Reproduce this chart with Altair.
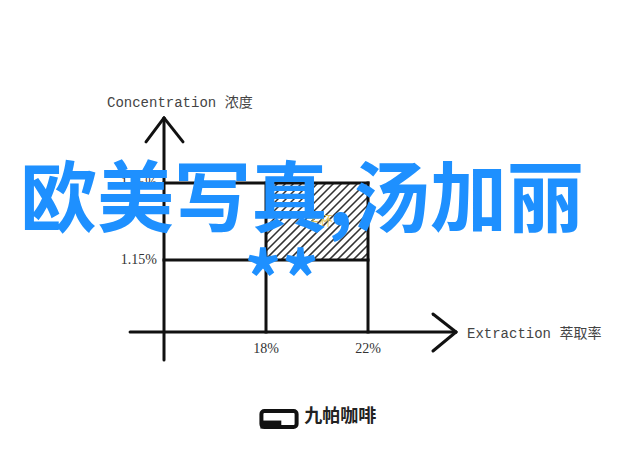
import altair as alt
import pandas as pd
import numpy as np

# ---------------- data ----------------
extraction_ticks = [18, 22]            # Extraction %
extraction_labels = ["18%", "22%"]
concentration_ticks = [1.15, 1.35]     # Concentration %
concentration_labels = ["1.15%", "1.35%"]
x_title = "Extraction 萃取率"
y_title = "Concentration 浓度"
zone_label = "金杯"
watermark = "欧美写真,汤加丽"
watermark2 = "**"
brand = "九帕咖啡"

# axis origin / extents (in data units)
X0, Y0 = 14.0, 0.963
X_START, X_END = 12.67, 25.45
Y_START, Y_END = 0.890, 1.519

X_DOM = [7.882, 32.353]
Y_DOM = [0.6513, 1.8045]
W, H = 624, 444
PX = W / (X_DOM[1] - X_DOM[0])
PY = H / (Y_DOM[1] - Y_DOM[0])

xs = alt.Scale(domain=X_DOM, zero=False, nice=False)
ys = alt.Scale(domain=Y_DOM, zero=False, nice=False)


def enc_rule():
    return dict(
        x=alt.X("x:Q", scale=xs, axis=None),
        y=alt.Y("y:Q", scale=ys, axis=None),
        x2="x2:Q",
        y2="y2:Q",
    )


# frame lines of the ideal zone
frame = []
for xv in extraction_ticks:
    frame.append(dict(x=xv, y=Y0, x2=xv, y2=concentration_ticks[1]))
for yv in concentration_ticks:
    frame.append(dict(x=X0, y=yv, x2=extraction_ticks[1], y2=yv))
frame_df = pd.DataFrame(frame)

axes_df = pd.DataFrame([
    dict(x=X_START, y=Y0, x2=X_END, y2=Y0),
    dict(x=X0, y=Y_START, x2=X0, y2=Y_END),
    # arrowheads
    dict(x=X_END - 23 / PX, y=Y0 + 18 / PY, x2=X_END, y2=Y0),
    dict(x=X_END - 23 / PX, y=Y0 - 19 / PY, x2=X_END, y2=Y0),
    dict(x=X0 - 18 / PX, y=Y_END - 24 / PY, x2=X0, y2=Y_END),
    dict(x=X0 + 19 / PX, y=Y_END - 24 / PY, x2=X0, y2=Y_END),
])

# hatch of the gold-cup zone (x 18-22, y 1.15-1.35)
bx0, bx1 = extraction_ticks
by0, by1 = concentration_ticks
bw = (bx1 - bx0) * PX
bh = (by1 - by0) * PY
hatch = []
for c in np.arange(-bh + 4, bw, 8.0):
    X1 = max(0.0, c)
    X2 = min(bw, bh + c)
    if X2 <= X1:
        continue
    hatch.append(dict(x=bx0 + X1 / PX, y=by0 + (X1 - c) / PY,
                      x2=bx0 + X2 / PX, y2=by0 + (X2 - c) / PY))
hatch_df = pd.DataFrame(hatch)

frame_layer = alt.Chart(frame_df).mark_rule(color="#111", strokeWidth=3, strokeCap="square").encode(**enc_rule())
hatch_layer = alt.Chart(hatch_df).mark_rule(color="#333", strokeWidth=1.6).encode(**enc_rule())
axes_layer = alt.Chart(axes_df).mark_rule(color="#111", strokeWidth=3, strokeCap="round").encode(**enc_rule())


def text_layer(df, **kw):
    return alt.Chart(df).mark_text(**kw).encode(
        x=alt.X("x:Q", scale=xs, axis=None),
        y=alt.Y("y:Q", scale=ys, axis=None),
        text="t:N",
    )


xlab = text_layer(pd.DataFrame(dict(x=extraction_ticks, y=[Y0 - 17 / PY] * 2, t=extraction_labels)),
                  font="Liberation Serif", fontSize=14, color="#333", align="center", baseline="middle")
ylab = text_layer(pd.DataFrame(dict(x=[X0 - 7 / PX] * 2, y=concentration_ticks, t=concentration_labels)),
                  font="Liberation Serif", fontSize=14, color="#333", align="right", baseline="middle")
xt = text_layer(pd.DataFrame(dict(x=[X_END + 11 / PX], y=[Y0 - 2 / PY], t=[x_title])),
                font="Liberation Mono, Noto Sans CJK SC", fontSize=14, color="#444", align="left", baseline="middle")
yt = text_layer(pd.DataFrame(dict(x=[X0 - 57 / PX], y=[Y_END + 15 / PY], t=[y_title])),
                font="Liberation Mono, Noto Sans CJK SC", fontSize=14, color="#444", align="left", baseline="middle")
zone = text_layer(pd.DataFrame(dict(x=[20.1], y=[1.25], t=[zone_label])),
                  font="Noto Sans CJK SC", fontSize=13, color="#e2c65a", align="center", baseline="middle")

wm = text_layer(pd.DataFrame(dict(x=[8.35], y=[1.298], t=[watermark])),
                font="Noto Sans CJK SC", fontSize=77, fontWeight="bold", color="#1e90ff",
                align="left", baseline="middle")
wm2 = text_layer(pd.DataFrame(dict(x=[18.62], y=[1.028], t=[watermark2])),
                 font="Noto Sans CJK SC", fontSize=74, fontWeight="bold", color="#1e90ff",
                 align="center", baseline="alphabetic")

# brand logo
logo_box = alt.Chart(pd.DataFrame(dict(x=[17.82], y=[0.758], x2=[19.2], y2=[0.716]))).mark_rect(
    fill="white", stroke="#111", strokeWidth=4, cornerRadius=3
).encode(x=alt.X("x:Q", scale=xs, axis=None), y=alt.Y("y:Q", scale=ys, axis=None), x2="x2:Q", y2="y2:Q")
logo_fill = alt.Chart(pd.DataFrame(dict(x=[17.78], y=[0.733], x2=[18.6], y2=[0.712]))).mark_rect(
    fill="#111"
).encode(x=alt.X("x:Q", scale=xs, axis=None), y=alt.Y("y:Q", scale=ys, axis=None), x2="x2:Q", y2="y2:Q")
brand_t = text_layer(pd.DataFrame(dict(x=[19.5], y=[0.7422], t=[brand])),
                     font="Noto Sans CJK SC", fontSize=18, fontWeight="bold", color="#222",
                     align="left", baseline="middle")

chart = alt.layer(
    hatch_layer, frame_layer, axes_layer, xlab, ylab, xt, yt, zone,
    logo_box, logo_fill, brand_t, wm, wm2
).properties(
    width=W, height=H, padding=0, autosize=alt.AutoSizeParams(type="none"), background="white"
).configure_view(stroke=None)

chart.save("out.html", embed_options={"renderer": "svg", "actions": False})
